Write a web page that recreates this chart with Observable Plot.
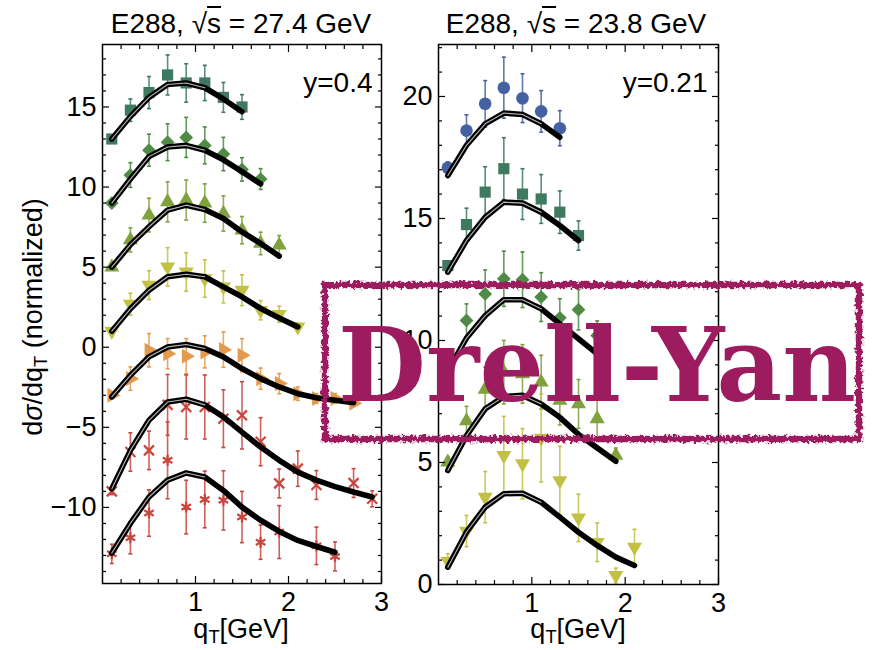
<!DOCTYPE html>
<html>
<head>
<meta charset="utf-8">
<script src="https://cdn.jsdelivr.net/npm/d3@7"></script>
<script src="https://cdn.jsdelivr.net/npm/@observablehq/plot@0.6"></script>
<style>
  body { margin: 0; background: #fff; }
  #wrap { position: relative; width: 872px; height: 650px; overflow: hidden;
          font-family: "Liberation Sans", Arial, sans-serif; color: #000; background: #fff; }
  .panel { position: absolute; top: 0; }
  .panel svg { overflow: visible; }
  .title { position: absolute; top: 10px; font-size: 28px; line-height: 28px; white-space: nowrap;
           transform: translateX(-50%); }
  .ol { text-decoration: overline; text-decoration-thickness: 1.5px; }
  .xlab { position: absolute; top: 616px; font-size: 27px; line-height: 27px; white-space: nowrap;
          transform: translateX(-50%); }
  .ylab { position: absolute; left: 33px; top: 317px; font-size: 27px; line-height: 27px; white-space: nowrap;
          transform: translate(-50%, -50%) rotate(-90deg); }
  sub { font-size: 0.68em; vertical-align: -0.28em; line-height: 0; }
  #stamp { position: absolute; left: 0; top: 0; pointer-events: none; }
</style>
</head>
<body>
<div id="wrap">
  <div id="left" class="panel" style="left:0px"></div>
  <div id="right" class="panel" style="left:400px"></div>
  <div class="title" style="left:241px">E288, √<span class="ol">s</span> = 27.4 GeV</div>
  <div class="title" style="left:576px">E288, √<span class="ol">s</span> = 23.8 GeV</div>
  <div class="ylab">d<i>σ</i>/dq<sub>T</sub> (normalized)</div>
  <div class="xlab" style="left:241px">q<sub>T</sub>[GeV]</div>
  <div class="xlab" style="left:578px">q<sub>T</sub>[GeV]</div>
  <svg id="stamp" width="872" height="650">
    <defs>
      <filter id="rough" x="-5%" y="-10%" width="110%" height="120%">
        <feTurbulence type="fractalNoise" baseFrequency="0.3" numOctaves="2" seed="7" result="noise"/>
        <feDisplacementMap in="SourceGraphic" in2="noise" scale="7" xChannelSelector="R" yChannelSelector="G"/>
      </filter>
      <filter id="soft" x="-2%" y="-5%" width="104%" height="110%">
        <feTurbulence type="fractalNoise" baseFrequency="0.6" numOctaves="1" seed="3" result="noise"/>
        <feDisplacementMap in="SourceGraphic" in2="noise" scale="1.4" xChannelSelector="R" yChannelSelector="G"/>
      </filter>
    </defs>
    <rect x="325" y="285" width="534" height="154" fill="none" stroke="#9c1c5f" stroke-width="6.5" filter="url(#rough)"/>
    <text x="338" y="401" fill="#9c1c5f" font-family="'DejaVu Serif', serif" font-weight="bold" font-size="102"
          textLength="518" lengthAdjust="spacingAndGlyphs" filter="url(#soft)">Drell-Yan</text>
  </svg>
</div>
<script>
// transverse-momentum bin centres (GeV)
const qT = [0.1, 0.3, 0.5, 0.7, 0.9, 1.1, 1.3, 1.5, 1.7, 1.9, 2.1, 2.3, 2.5, 2.7, 2.9];
const xTickValues = [1, 2, 3];
const xMinorValues = [0.2, 0.4, 0.6, 0.8, 1.2, 1.4, 1.6, 1.8, 2.2, 2.4, 2.6, 2.8];

// E288, sqrt(s) = 27.4 GeV, y = 0.4 (mass bins stacked with offsets)
const a1Val = [13.0, 14.8, 15.9, 17.0, 16.5, 16.5, 15.6, 15.0];
const a1Err = [0.15, 0.7, 1.0, 1.25, 1.2, 1.1, 0.93, 0.77];
const a1Fit = [13.0, 14.4, 15.6, 16.4, 16.5, 16.2, 15.5, 14.7];

const a2Val = [9.0, 10.75, 12.3, 12.8, 13.1, 12.6, 12.06, 11.1, 10.5];
const a2Err = [0.15, 0.77, 1.0, 1.15, 1.25, 1.15, 1.04, 0.73, 0.65];
const a2Fit = [9.0, 10.5, 11.9, 12.5, 12.6, 12.3, 11.7, 10.96, 10.2];

const a3Val = [5.0, 6.7, 8.25, 9.08, 9.19, 9.0, 8.35, 7.31, 6.48, 6.37];
const a3Err = [0.15, 0.75, 1.05, 1.25, 1.25, 1.2, 1.1, 0.85, 0.7, 0.6];
const a3Fit = [5.0, 6.4, 7.52, 8.56, 8.87, 8.6, 8.04, 7.2, 6.48, 5.69];

const a4Val = [1.0, 2.69, 3.88, 5.02, 4.7, 4.29, 3.77, 3.56, 2.31, 2.06, 1.27];
const a4Err = [0.2, 0.68, 0.9, 1.2, 1.2, 1.17, 1.0, 0.96, 0.6, 0.5, 0.25];
const a4Fit = [1.0, 2.4, 3.56, 4.4, 4.56, 4.4, 3.77, 3.15, 2.42, 1.83, 1.27];

const a5Val = [-3.0, -1.96, -0.19, -0.4, -0.56, -0.29, -0.15, -0.5, -1.96, -2.27, -2.9, -3.2, -3.2, -3.5];
const a5Err = [0.2, 0.73, 1.04, 0.94, 1.1, 1.0, 1.1, 1.04, 0.66, 0.63, 0.42, 0.3, 0.3, 0.2];
const a5Fit = [-3.1, -1.75, -0.6, 0.02, 0.17, -0.08, -0.6, -1.33, -1.96, -2.48, -2.9, -3.15, -3.31, -3.46];

const a6Val = [-9.0, -6.54, -6.44, -3.6, -3.73, -3.73, -4.46, -4.25, -5.9, -8.5, -7.58, -8.6, null, -8.48, -9.46];
const a6Err = [0.2, 1.2, 1.2, 1.9, 2.0, 2.0, 1.8, 2.1, 1.5, 0.9, 1.1, 0.9, null, 0.9, 0.5];
const a6Fit = [-8.83, -6.44, -4.56, -3.42, -3.25, -3.6, -4.35, -5.3, -6.23, -7.06, -7.8, -8.3, -8.7, -9.04, -9.35];

const a7Val = [-12.9, -11.9, -10.35, -7.06, -9.98, -9.5, -9.56, -10.6, -12.17, -11.54, null, -12.4, -13.06];
const a7Err = [0.6, 1.0, 1.45, 2.4, 1.67, 1.77, 1.85, 1.6, 1.07, 1.65, null, 1.17, 0.9];
const a7Fit = [-12.85, -11.0, -9.35, -8.3, -7.85, -8.1, -8.94, -9.98, -10.8, -11.5, -12.06, -12.44, -12.8];

// E288, sqrt(s) = 23.8 GeV, y = 0.21
const b1Val = [17.08, 18.6, 19.7, 20.36, 19.93, 19.39, 18.7];
const b1Err = [0.24, 0.65, 0.95, 1.25, 1.0, 0.85, 0.72];
const b1Fit = [16.76, 18.0, 18.88, 19.32, 19.26, 18.88, 18.33];

const b2Val = [13.07, 14.75, 16.08, 17.04, 16.0, 15.8, 15.26, 14.3];
const b2Err = [0.15, 0.67, 1.04, 1.27, 1.04, 1.0, 0.87, 0.6];
const b2Fit = [12.8, 14.1, 15.05, 15.67, 15.63, 15.26, 14.71, 14.1];

const b3Val = [9.0, 10.82, 11.91, 12.53, 12.49, 11.78, 10.93, 11.26, 10.2];
const b3Err = [0.2, 0.68, 0.98, 1.13, 1.14, 1.0, 0.78, 0.83, 0.6];
const b3Fit = [8.75, 10.1, 11.02, 11.67, 11.67, 11.3, 10.68, 10.07, 9.45];

const b4Val = [5.01, 6.7, 8.0, 8.7, 8.63, 8.29, 7.54, 7.4, 6.79, 5.29];
const b4Err = [0.2, 0.6, 0.9, 1.3, 1.2, 1.1, 1.0, 1.0, 0.8, 0.3];
const b4Fit = [4.67, 6.1, 7.2, 7.7, 7.75, 7.4, 6.85, 6.15, 5.6, 5.05];

const b5Val = [0.96, 2.19, 3.58, 5.29, 4.95, 6.0, 4.26, 2.73, 1.73, 0.37, 1.53];
const b5Err = [0.3, 0.64, 1.05, 1.6, 1.44, 1.8, 1.4, 0.97, 0.79, 0.3, 0.73];
const b5Fit = [0.71, 2.15, 3.17, 3.72, 3.74, 3.37, 2.76, 2.14, 1.6, 1.12, 0.78];

// marker palette
const cBlue = "#4462a2", cTeal = "#3f7a60", cGreen = "#4f8b45", cOlive = "#7fa13e",
      cYellow = "#c3c143", cOrange = "#e39a4e", cRed = "#c8473f";

// custom marker shapes
const S3 = Math.sqrt(3);
const triDown = { draw(ctx, size) { const y = -Math.sqrt(size / (S3 * 3));
  ctx.moveTo(0, -2 * y); ctx.lineTo(-S3 * y, y); ctx.lineTo(S3 * y, y); ctx.closePath(); } };
const triRight = { draw(ctx, size) { const y = -Math.sqrt(size / (S3 * 3));
  ctx.moveTo(-2 * y, 0); ctx.lineTo(y, -S3 * y); ctx.lineTo(y, S3 * y); ctx.closePath(); } };
const capBar = { draw(ctx, size) { const r = Math.sqrt(size / Math.PI);
  ctx.moveTo(-r, 0); ctx.lineTo(r, 0); } };

const leftSeries = [
  {val: a1Val, err: a1Err, fit: a1Fit, color: cTeal, symbol: "square", r: 6.3},
  {val: a2Val, err: a2Err, fit: a2Fit, color: cGreen, symbol: "diamond2", r: 6.2},
  {val: a3Val, err: a3Err, fit: a3Fit, color: cOlive, symbol: "triangle", r: 5.6},
  {val: a4Val, err: a4Err, fit: a4Fit, color: cYellow, symbol: triDown, r: 5.6},
  {val: a5Val, err: a5Err, fit: a5Fit, color: cOrange, symbol: triRight, r: 5.6},
  {val: a6Val, err: a6Err, fit: a6Fit, color: cRed, symbol: "times", r: 4.6, stroked: true},
  {val: a7Val, err: a7Err, fit: a7Fit, color: cRed, symbol: "asterisk", r: 5.2, stroked: true}
];
const rightSeries = [
  {val: b1Val, err: b1Err, fit: b1Fit, color: cBlue, symbol: "circle", r: 6.3},
  {val: b2Val, err: b2Err, fit: b2Fit, color: cTeal, symbol: "square", r: 6.3},
  {val: b3Val, err: b3Err, fit: b3Fit, color: cGreen, symbol: "diamond2", r: 6.2},
  {val: b4Val, err: b4Err, fit: b4Fit, color: cOlive, symbol: "triangle", r: 5.6},
  {val: b5Val, err: b5Err, fit: b5Fit, color: cYellow, symbol: triDown, r: 5.6}
];

function panel({series, yDomain, yTicks, yMinor, width, marginLeft, marginRight, marginBottom, note, noteDx}) {
  const marks = [];
  for (const s of series) {
    const pts = s.val.map((v, i) => v == null ? null : {x: qT[i], y: v, lo: v - s.err[i], hi: v + s.err[i]})
                     .filter(d => d);
    marks.push(Plot.ruleX(pts, {x: "x", y1: "lo", y2: "hi", stroke: s.color, strokeWidth: 1.6, strokeOpacity: 0.85}));
    marks.push(Plot.dot(pts, {x: "x", y: "lo", symbol: capBar, r: 2, stroke: s.color, strokeWidth: 1.6}));
    marks.push(Plot.dot(pts, {x: "x", y: "hi", symbol: capBar, r: 2, stroke: s.color, strokeWidth: 1.6}));
    marks.push(Plot.dot(pts, s.stroked
      ? {x: "x", y: "y", symbol: s.symbol, r: s.r, stroke: s.color, fill: "none", strokeWidth: 2.3}
      : {x: "x", y: "y", symbol: s.symbol, r: s.r, fill: s.color}));
  }
  // theory band: dark outline with a faint light core near the peak
  for (const s of series) {
    const f = s.fit.map((v, i) => ({x: qT[i], y: v}));
    marks.push(Plot.line(f, {x: "x", y: "y", stroke: "#000", strokeWidth: 5.6, strokeLinejoin: "round"}));
    marks.push(Plot.line(f.filter(d => d.x <= 1.1), {x: "x", y: "y", stroke: "#e6e6e6", strokeWidth: 1.1, strokeOpacity: 0.8}));
  }
  const tick = {label: null, fill: "none", strokeWidth: 1.2};
  marks.push(
    Plot.frame({stroke: "#000", strokeWidth: 1.5}),
    Plot.axisX(xTickValues, {...tick, anchor: "bottom", tickSize: 7, dy: -7}),
    Plot.axisX(xMinorValues, {...tick, anchor: "bottom", tickSize: 4, dy: -4}),
    Plot.axisX(xTickValues, {...tick, anchor: "top", tickSize: 7, dy: 7}),
    Plot.axisX(xMinorValues, {...tick, anchor: "top", tickSize: 4, dy: 4}),
    Plot.axisY(yTicks, {...tick, anchor: "left", tickSize: 7, dx: 7}),
    Plot.axisY(yMinor, {...tick, anchor: "left", tickSize: 4, dx: 4}),
    Plot.axisY(yTicks, {...tick, anchor: "right", tickSize: 7, dx: -7}),
    Plot.axisY(yMinor, {...tick, anchor: "right", tickSize: 4, dx: -4}),
    Plot.axisX(xTickValues, {anchor: "bottom", tickSize: 0, tickPadding: 8, label: null}),
    Plot.axisY(yTicks, {anchor: "left", tickSize: 0, tickPadding: 6, label: null}),
    Plot.text([note], {text: d => d, frameAnchor: "top-right", dx: noteDx, dy: 28, fontSize: 28})
  );
  return Plot.plot({
    width, height: 650, marginLeft, marginRight, marginTop: 44, marginBottom,
    x: {domain: [0, 3]},
    y: {domain: yDomain},
    style: {fontFamily: "'Liberation Sans', Arial, sans-serif", fontSize: "27px", background: "transparent", color: "#000"},
    marks
  });
}

const leftMinor = d3.range(-14, 19).filter(v => v % 5 !== 0);
const rightMinor = d3.range(1, 23).filter(v => v % 5 !== 0);

document.getElementById("left").append(panel({
  series: leftSeries, yDomain: [-14.75, 18.9], yTicks: [-10, -5, 0, 5, 10, 15], yMinor: leftMinor,
  width: 400, marginLeft: 102, marginRight: 19, marginBottom: 67, note: "y=0.4", noteDx: -9
}));
document.getElementById("right").append(panel({
  series: rightSeries, yDomain: [0, 22.13], yTicks: [0, 5, 10, 15, 20], yMinor: rightMinor,
  width: 472, marginLeft: 38, marginRight: 154, marginBottom: 66, note: "y=0.21", noteDx: -11
}));
</script>
</body>
</html>
